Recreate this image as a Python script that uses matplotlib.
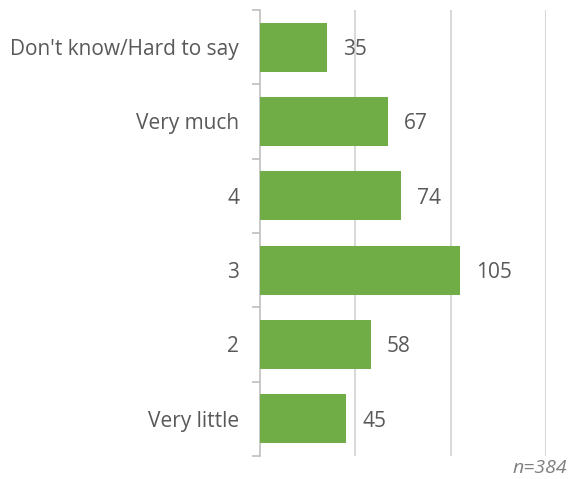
import numpy as np
import matplotlib.pyplot as plt
from matplotlib.ticker import FixedLocator

categories = ["Don't know/Hard to say", "Very much", "4", "3", "2", "Very little"]
counts = [35, 67, 74, 105, 58, 45]
note = "n=384"

green = "#70AD47"
text_gray = "#595959"
grid_gray = "#D9D9D9"

plt.rcParams['font.family'] = ['Open Sans', 'DejaVu Sans']

fig = plt.figure(figsize=(5.71, 4.79), dpi=100)
ax = fig.add_axes([260 / 571, 1 - 456 / 479, (546 - 260) / 571, (456 - 10) / 479])

y = np.arange(len(categories))
ax.barh(y, counts, height=0.66, color=green, zorder=3)
ax.set_ylim(len(categories) - 0.5, -0.5)
ax.set_xlim(0, 150)

for yi, v in zip(y, counts):
    ax.text(v + 8.5, yi + 0.03, str(v), va="center", ha="left", fontsize=15, color=text_gray)

ax.set_yticks(y)
ax.set_yticklabels(categories, fontsize=15, color=text_gray)
ax.tick_params(axis="y", which="major", length=0, pad=15)
ax.yaxis.set_minor_locator(FixedLocator(np.arange(-0.5, len(categories), 1.0)))
ax.tick_params(axis="y", which="minor", length=6, color="#BFBFBF", width=1.2)

ax.set_xticks([50, 100, 150])
ax.set_xticklabels([])
ax.tick_params(axis="x", length=0)
ax.grid(axis="x", color=grid_gray, linewidth=1.5, zorder=0)

for side in ["top", "right", "bottom"]:
    ax.spines[side].set_visible(False)
ax.spines["left"].set_color("#BFBFBF")
ax.spines["left"].set_linewidth(1.2)

fig.text(567 / 571, 1 - 468 / 479, note, ha="right", va="center",
         fontsize=14, style="italic", color="#7F7F7F")

fig.savefig("out.png", dpi=100)
